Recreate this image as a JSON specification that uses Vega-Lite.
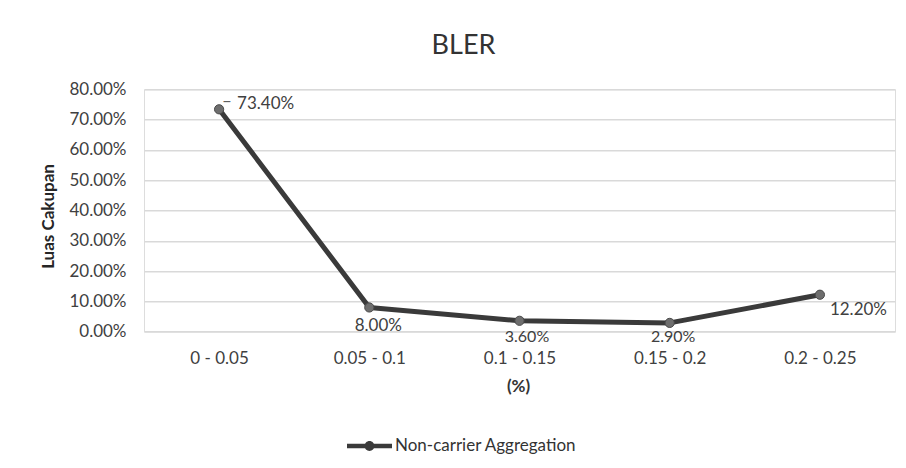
{
  "$schema": "https://vega.github.io/schema/vega-lite/v6.json",
  "autosize": {"type": "none"},
  "padding": {"left": 144, "top": 89.3, "right": 11, "bottom": 136.3},
  "width": 751,
  "height": 242.4,
  "background": "white",
  "title": {
    "text": "BLER",
    "anchor": "middle",
    "frame": "group",
    "dx": -56,
    "offset": 20,
    "font": "Lato",
    "fontSize": 27,
    "fontWeight": "normal",
    "color": "#333333"
  },
  "data": {
    "values": [
      {"range": "0 - 0.05", "value": 0.734, "series": "Non-carrier Aggregation"},
      {"range": "0.05 - 0.1", "value": 0.08, "series": "Non-carrier Aggregation"},
      {"range": "0.1 - 0.15", "value": 0.036, "series": "Non-carrier Aggregation"},
      {"range": "0.15 - 0.2", "value": 0.029, "series": "Non-carrier Aggregation"},
      {"range": "0.2 - 0.25", "value": 0.122, "series": "Non-carrier Aggregation"}
    ]
  },
  "encoding": {
    "x": {
      "field": "range",
      "type": "ordinal",
      "sort": null,
      "scale": {"type": "point", "padding": 0.5},
      "axis": {
        "title": "(%)",
        "labelAngle": 0,
        "domain": false,
        "ticks": false,
        "tickSize": 0,
        "grid": false,
        "labelPadding": 19,
        "labelFont": "Lato",
        "labelFontSize": 17,
        "labelColor": "#404040",
        "titleFont": "Lato",
        "titleFontSize": 17,
        "titleFontWeight": "bold",
        "titleColor": "#333333",
        "titleBaseline": "middle",
        "titleAlign": "center",
        "titleX": 374,
        "titleY": 55
      }
    },
    "y": {
      "field": "value",
      "type": "quantitative",
      "scale": {"domain": [0, 0.8], "nice": false},
      "axis": {
        "title": "Luas Cakupan",
        "format": ".2%",
        "values": [0, 0.1, 0.2, 0.3, 0.4, 0.5, 0.6, 0.7, 0.8],
        "domain": false,
        "ticks": false,
        "tickSize": 0,
        "grid": true,
        "gridColor": "#d9d9d9",
        "gridWidth": 1.5,
        "labelPadding": 18,
        "labelFont": "Lato",
        "labelFontSize": 17,
        "labelColor": "#404040",
        "titleFont": "Lato",
        "titleFontSize": 17,
        "titleFontWeight": "bold",
        "titleColor": "#262626",
        "titleAngle": -90,
        "titleBaseline": "middle",
        "titleAlign": "center",
        "titleX": -96,
        "titleY": 126.7
      }
    }
  },
  "layer": [
    {
      "mark": {"type": "line", "strokeWidth": 5, "strokeCap": "round", "strokeJoin": "round"},
      "encoding": {
        "color": {
          "field": "series",
          "type": "nominal",
          "scale": {"range": ["#3a3a3a"]},
          "legend": {
            "title": null,
            "orient": "none",
            "legendX": 203,
            "legendY": 334.2,
            "padding": 0,
            "symbolType": "M-1,-0.1H1V0.1H-1Z M-0.22,0A0.22,0.22 0 1,1 0.22,0A0.22,0.22 0 1,1 -0.22,0Z",
            "symbolSize": 2025,
            "symbolFillColor": "#3a3a3a",
            "symbolStrokeWidth": 0,
            "labelOffset": 3,
            "labelLimit": 400,
            "labelFont": "Lato",
            "labelFontSize": 17,
            "labelColor": "#333333"
          }
        }
      }
    },
    {
      "mark": {"type": "point", "filled": true, "shape": "circle", "size": 85, "color": "#6e6e6e", "stroke": "#4a4a4a", "strokeWidth": 1, "opacity": 1}
    },
    {
      "transform": [{"filter": "datum.range === '0 - 0.05'"}],
      "mark": {"type": "text", "align": "left", "baseline": "middle", "dx": 18, "dy": -5.7, "font": "Lato", "fontSize": 17, "color": "#404040"},
      "encoding": {"text": {"field": "value", "type": "quantitative", "format": ".2%"}}
    },
    {
      "transform": [{"filter": "datum.range === '0 - 0.05'"}],
      "mark": {"type": "text", "align": "left", "baseline": "middle", "dx": 3, "dy": -7.5, "font": "Lato", "fontSize": 17, "color": "#606060", "text": "–"}
    },
    {
      "transform": [{"filter": "datum.range === '0.05 - 0.1'"}],
      "mark": {"type": "text", "align": "center", "baseline": "middle", "dx": 9, "dy": 19, "font": "Lato", "fontSize": 17, "color": "#404040"},
      "encoding": {"text": {"field": "value", "type": "quantitative", "format": ".2%"}}
    },
    {
      "transform": [{"filter": "datum.range === '0.1 - 0.15'"}],
      "mark": {"type": "text", "align": "center", "baseline": "middle", "dx": 7.5, "dy": 16, "font": "Lato", "fontSize": 16, "color": "#404040"},
      "encoding": {"text": {"field": "value", "type": "quantitative", "format": ".2%"}}
    },
    {
      "transform": [{"filter": "datum.range === '0.15 - 0.2'"}],
      "mark": {"type": "text", "align": "center", "baseline": "middle", "dx": 3.5, "dy": 14.3, "font": "Lato", "fontSize": 16, "color": "#404040"},
      "encoding": {"text": {"field": "value", "type": "quantitative", "format": ".2%"}}
    },
    {
      "transform": [{"filter": "datum.range === '0.2 - 0.25'"}],
      "mark": {"type": "text", "align": "left", "baseline": "middle", "dx": 10, "dy": 15, "font": "Lato", "fontSize": 17, "color": "#404040"},
      "encoding": {"text": {"field": "value", "type": "quantitative", "format": ".2%"}}
    }
  ]
}
